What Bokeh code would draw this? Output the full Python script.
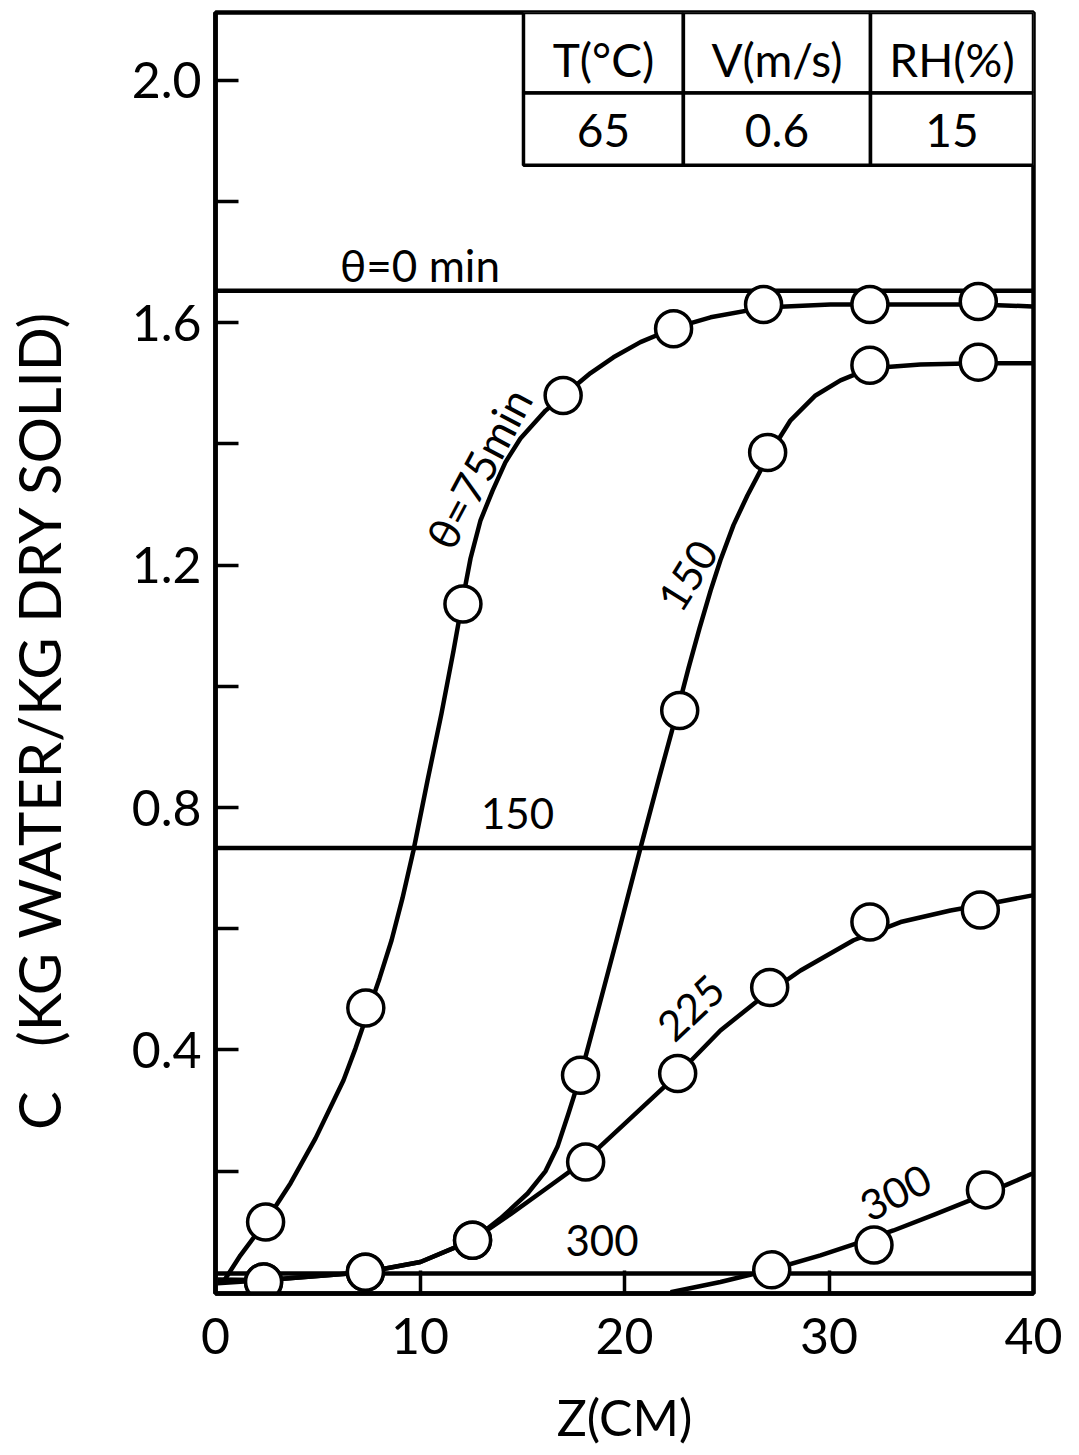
from bokeh.plotting import figure
from bokeh.models import FixedTicker, Range1d
from bokeh.embed import file_html
from bokeh.resources import INLINE
from bokeh.core.properties import value

# ---------------- data ----------------
# measured points (markers)
z_75 = [2.45, 7.35, 12.1, 17.0, 22.4, 26.8, 32.0, 37.3]
c_75 = [0.116, 0.469, 1.136, 1.48, 1.59, 1.63, 1.63, 1.635]

z_150 = [2.35, 7.33, 12.57, 17.85, 22.7, 27.0, 32.0, 37.3]
c_150 = [0.017, 0.033, 0.086, 0.358, 0.96, 1.386, 1.53, 1.535]

z_225 = [2.35, 7.33, 12.57, 18.1, 22.6, 27.1, 32.0, 37.4]
c_225 = [0.017, 0.033, 0.086, 0.215, 0.361, 0.503, 0.611, 0.631]

z_300 = [27.2, 32.2, 37.65]
c_300 = [0.037, 0.078, 0.169]

# drawn (fitted) curves
curve_z_75 = [0.34, 1.22, 2.44, 3.67, 4.89, 6.26, 6.85, 7.43, 8.02, 8.61, 9.14, 9.68,
              10.37, 11.05, 11.64, 12.08, 12.47, 12.96, 13.55, 14.18, 14.91, 16.14,
              17.02, 18.34, 19.46, 20.78, 22.40, 24.21, 26.80, 30.07, 33.50, 37.31, 39.95]
curve_c_75 = [0.015, 0.061, 0.116, 0.180, 0.254, 0.350, 0.403, 0.460, 0.518, 0.581, 0.650, 0.729,
              0.845, 0.955, 1.059, 1.142, 1.211, 1.274, 1.323, 1.370, 1.409, 1.455,
              1.480, 1.517, 1.543, 1.568, 1.591, 1.609, 1.625, 1.630, 1.630, 1.630, 1.627]

curve_z_150 = [0.10, 2.35, 7.33, 10.02, 12.57, 13.94, 15.26, 16.14, 16.72, 17.26, 17.85,
               18.70, 19.61, 20.78, 21.71, 22.59, 23.13, 23.67, 24.21, 24.69, 25.33, 26.01,
               27.04, 28.12, 29.34, 30.56, 32.03, 34.47, 37.31, 39.95]
curve_c_150 = [0.015, 0.020, 0.033, 0.050, 0.086, 0.122, 0.163, 0.200, 0.240, 0.295, 0.358,
               0.465, 0.581, 0.733, 0.851, 0.960, 1.030, 1.096, 1.158, 1.208, 1.266, 1.315,
               1.381, 1.439, 1.480, 1.505, 1.525, 1.531, 1.533, 1.533]

curve_z_225 = [0.10, 2.35, 7.33, 10.02, 12.57, 14.43, 16.04, 18.09, 20.29, 22.64, 24.69,
               26.65, 28.61, 31.20, 33.50, 35.94, 38.39, 39.95]
curve_c_225 = [0.021, 0.020, 0.033, 0.050, 0.086, 0.129, 0.168, 0.218, 0.287, 0.361, 0.432,
               0.485, 0.531, 0.581, 0.611, 0.630, 0.645, 0.655]

curve_z_300 = [22.25, 24.69, 27.24, 29.58, 31.39, 33.15, 35.21, 36.92, 38.73, 39.95]
curve_c_300 = [0.0, 0.017, 0.038, 0.061, 0.081, 0.102, 0.129, 0.152, 0.178, 0.196]

# horizontal (uniform) profiles
level_names = ["\u03b8=0 min", "150", "300"]
level_values = [1.653, 0.733, 0.031]

# conditions table
table_headers = ["T(\u00b0C)", "V(m/s)", "RH(%)"]
table_values = ["65", "0.6", "15"]

x_ticks = [0, 10, 20, 30, 40]
x_tick_labels = ["0", "10", "20", "30", "40"]
y_ticks = [0.4, 0.8, 1.2, 1.6, 2.0]
y_tick_labels = ["0.4", "0.8", "1.2", "1.6", "2.0"]
y_minor_ticks = [0.2, 0.6, 1.0, 1.4, 1.8]

FONT = "Lato"
X0, X1 = 0, 40
NB = "\u00a0"

# ---------------- figure ----------------
p = figure(width=1079, height=1455, output_backend="svg", toolbar_location=None,
           x_range=Range1d(X0, X1), y_range=Range1d(-0.002, 2.112),
           min_border_left=215, min_border_right=46, min_border_top=12,
           min_border_bottom=162)
p.background_fill_color = "white"
p.border_fill_color = "white"
p.xgrid.visible = False
p.ygrid.visible = False
p.outline_line_color = "black"
p.outline_line_width = 4.5

# axes
for ax in (p.xaxis[0], p.yaxis[0]):
    ax.axis_line_color = "black"
    ax.axis_line_width = 4.5
    ax.major_tick_in = 23
    ax.major_tick_out = 0
    ax.minor_tick_in = 23
    ax.minor_tick_out = 0
    ax.major_tick_line_width = 3.5
    ax.minor_tick_line_width = 3.5
    ax.major_label_text_font = FONT
    ax.major_label_text_color = "black"
    ax.major_label_text_font_size = "50px"
    ax.axis_label_text_font = FONT
    ax.axis_label_text_font_style = "normal"
    ax.axis_label_text_color = "black"

p.xaxis.ticker = FixedTicker(ticks=x_ticks, minor_ticks=[])
p.xaxis.major_label_overrides = {t: s for t, s in zip(x_ticks, x_tick_labels)}
p.xaxis.major_label_standoff = 24
p.xaxis.axis_label = "Z(CM)"
p.xaxis.axis_label_text_font_size = "50px"
p.xaxis.axis_label_standoff = 30

p.yaxis.ticker = FixedTicker(ticks=y_ticks, minor_ticks=y_minor_ticks)
p.yaxis.major_label_overrides = {t: s for t, s in zip(y_ticks, y_tick_labels)}
p.yaxis.major_label_standoff = 14
p.yaxis.axis_label = "C" + NB * 3 + "(KG WATER/KG DRY SOLID)" + NB * 9
p.yaxis.axis_label_text_font_size = "58px"
p.yaxis.axis_label_standoff = 56

# horizontal profiles
for v in level_values:
    p.line([X0, X1], [v, v], line_color="black", line_width=4.5)

# curves
LW = 4.5
p.line(curve_z_75, curve_c_75, line_color="black", line_width=LW, line_join="round")
p.line(curve_z_150, curve_c_150, line_color="black", line_width=LW, line_join="round")
p.line(curve_z_225, curve_c_225, line_color="black", line_width=LW, line_join="round")
p.line(curve_z_300, curve_c_300, line_color="black", line_width=LW, line_join="round")

# markers
for zs, cs in ((z_75, c_75), (z_150, c_150), (z_225, c_225), (z_300, c_300)):
    p.scatter(zs, cs, marker="circle", size=36, fill_color="white",
              line_color="black", line_width=3.5)

# curve labels
def lab(x, y, t, ang=0, size="42px"):
    p.text(x=[x], y=[y], text=[t], angle=ang, angle_units="deg",
           text_align="center", text_baseline="middle",
           text_font=value(FONT), text_font_size=size, text_color="black")

lab(10.0, 1.695, level_names[0], 0, "44px")
lab(12.86, 1.36, "\u03b8=75min", 62, "44px")
lab(23.08, 1.183, "150", 58)
lab(14.77, 0.79, level_names[1], 0)
lab(23.23, 0.47, "225", 43)
lab(18.9, 0.086, level_names[2], 0)
lab(33.25, 0.165, "300", 27)

# conditions table (top-right corner)
col_edges = [15.06, 22.88, 32.03, 40.0]
row_edges = [2.112, 1.979, 1.86]
lefts = col_edges[:-1] * 2
rights = col_edges[1:] * 2
tops = [row_edges[0]] * 3 + [row_edges[1]] * 3
bottoms = [row_edges[1]] * 3 + [row_edges[2]] * 3
p.quad(left=lefts, right=rights, top=tops, bottom=bottoms,
       fill_color="white", line_color="black", line_width=3.5)
cx = [(a + b) / 2 for a, b in zip(col_edges[:-1], col_edges[1:])]
p.text(x=cx, y=[2.035] * 3, text=table_headers, text_align="center",
       text_baseline="middle", text_font=value(FONT), text_font_size="46px",
       text_color="black")
p.text(x=cx, y=[1.918] * 3, text=table_values, text_align="center",
       text_baseline="middle", text_font=value(FONT), text_font_size="46px",
       text_color="black")

open("out.html", "w").write(file_html(p, INLINE))
